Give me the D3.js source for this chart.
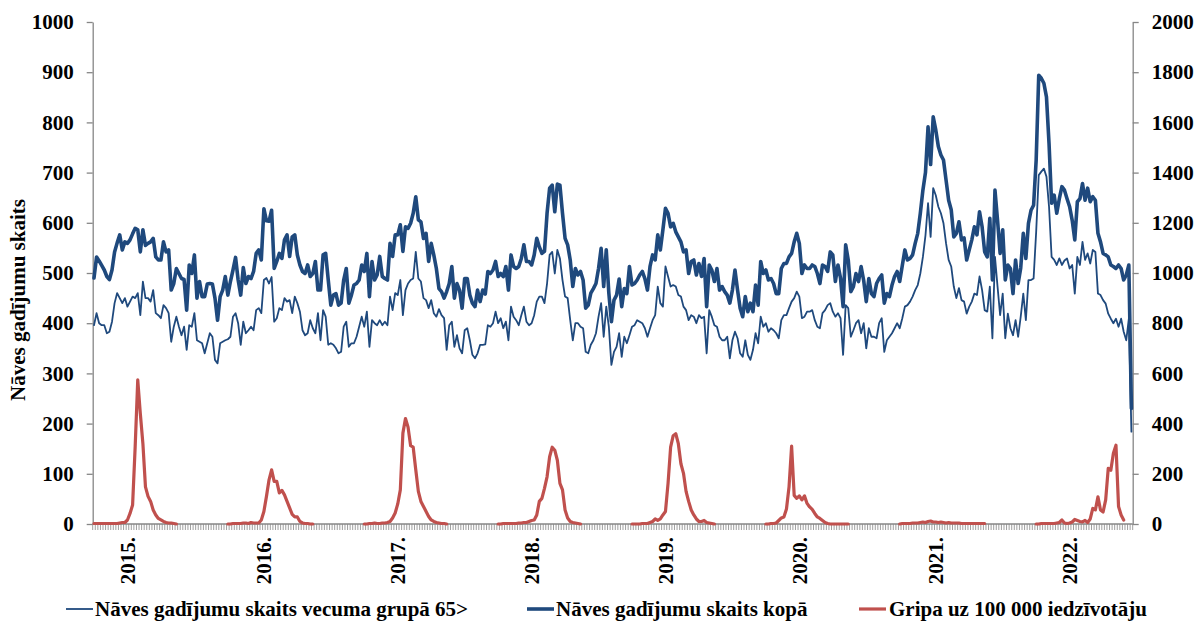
<!DOCTYPE html>
<html>
<head>
<meta charset="utf-8">
<script src="https://cdn.jsdelivr.net/npm/d3@7"></script>
<style>
  html, body { margin: 0; padding: 0; background: #fff; }
  svg { display: block; }
</style>
</head>
<body>
<svg id="chart" width="1203" height="624"></svg>
<script>
// Weekly data, the first value is ISO week 40 of 2014
const firstYear = 2014;
const firstWeek = 40;
const weeksInYear = { 2014: 52, 2015: 53, 2016: 52, 2017: 52, 2018: 52, 2019: 52, 2020: 53, 2021: 52, 2022: 52 };

// Deaths, age group 65+ (left axis)
const deathsOver65 = [
  396,420,400,396,396,380,383,403,440,460, 450,440,450,433,443,453,450,460,416,483,
  450,450,443,466,420,416,410,436,430,420, 363,393,413,393,376,393,347,396,393,420,
  366,363,360,340,360,380,373,327,320,360, 363,366,368,373,413,420,400,357,403,380,
  386,393,386,426,430,420,486,490,479,492, 403,410,430,426,450,443,446,420,453,440,
  423,386,376,380,406,390,380,420,366,426, 413,357,360,357,350,340,343,393,403,353,
  360,360,373,393,413,393,423,353,406,400, 396,406,396,403,396,453,426,460,456,486,
  416,466,479,486,489,542,489,483,450,446, 430,446,420,413,428,416,410,347,396,403,
  353,376,350,340,386,390,366,337,330,340, 357,357,358,396,393,400,423,400,410,390,
  403,366,433,413,406,396,416,433,403,396, 400,416,443,453,453,440,479,536,542,499,
  546,529,486,453,450,406,366,400,400,393, 390,343,340,357,366,380,413,440,373,433,
  393,317,343,353,380,333,373,360,376,393, 396,406,403,400,390,373,390,406,416,473,
  440,433,513,493,473,476,473,456,453,433, 426,406,416,413,400,416,410,413,340,426,
  413,396,393,373,366,366,373,330,366,383, 370,340,333,366,337,327,347,380,360,413,
  393,400,383,390,386,380,370,406,416,416, 430,443,450,463,453,410,413,423,423,426,
  406,393,390,420,426,436,440,423,413,420, 410,337,436,430,373,386,400,406,380,400,
  350,390,373,373,370,400,410,343,366,373, 380,390,400,390,410,433,436,443,453,466,
  476,499,532,575,639,572,669,655,632,619, 599,559,526,513,473,450,470,446,443,419,
  433,443,459,456,493,466,426,423,473,370, 532,473,416,459,370,419,390,376,406,373,
  413,459,406,486,486,489,582,695,702,708, 692,632,532,526,516,529,516,525,529,509,
  516,459,532,516,562,526,539,519,546,542, 459,456,446,439,419,409,400,409,393,409,
  383,366,409,184
];

// Deaths, total (left axis)
const deathsTotal = [
  490,532,524,515,506,493,487,506,542,560, 576,546,562,559,566,578,589,586,542,586,
  555,559,562,569,532,526,526,562,542,546, 466,479,509,499,489,487,426,516,499,536,
  450,483,453,453,478,479,478,450,406,453, 466,493,456,483,506,531,486,456,511,479,
  493,489,503,539,546,526,628,604,603,625, 509,523,539,529,566,576,533,572,576,536,
  516,503,499,516,493,499,523,466,466,536, 539,486,436,456,459,436,440,486,509,440,
  456,476,479,486,516,503,539,453,523,486, 496,533,493,489,486,559,533,576,576,596,
  543,592,589,599,619,652,606,602,569,579, 523,559,536,509,469,463,450,463,479,513,
  450,479,466,430,489,489,456,440,433,466, 443,466,458,503,499,506,523,493,499,493,
  513,466,536,513,509,513,529,556,523,523, 516,536,569,552,539,543,619,669,675,622,
  677,675,619,569,556,526,473,509,496,503, 486,430,436,460,469,479,509,549,473,546,
  460,403,446,456,488,433,469,459,513,476, 479,486,496,503,489,466,513,536,526,576,
  546,586,629,619,592,599,582,572,562,542, 546,499,523,526,496,519,493,529,433,516,
  506,483,509,466,473,463,456,440,466,506, 466,430,413,453,423,440,423,476,436,523,
  499,506,486,489,479,459,459,509,519,519, 532,539,562,579,559,499,516,509,509,516,
  513,499,479,516,513,503,542,536,483,516, 490,433,556,526,463,473,499,483,513,485,
  443,489,459,453,479,489,496,440,459,453, 476,493,503,483,515,546,526,529,536,559,
  579,619,665,700,791,716,811,785,752,735, 725,685,645,626,572,579,602,566,570,526,
  546,566,592,576,622,592,542,532,609,486, 665,605,539,586,486,516,509,459,526,479,
  510,579,529,599,625,635,725,894,888,878, 851,758,639,655,619,648,672,665,648,632,
  605,566,642,648,678,645,669,642,652,645, 579,562,539,536,532,516,513,509,516,509,
  486,496,516,230
];

// Influenza per 100 000 inhabitants (right axis), only reported in the flu season
const fluPer100k = [
  2,2,2,2,2,2,2,2,2,2, 4,6,6,16,42,76,308,574,440,320, 148,110,90,56,36,22,16,10,6,4, 4,2,0,
  null,null,null,null,null,null,null,null,null,null,null,null,null,null,null,null,null,null,null,
  0,0,2,2,2,2,4,4,2,6, 4,4,4,16,50,110,176,216,170,170, 124,134,116,90,64,38,28,28,10,4, 2,2,0,0,
  null,null,null,null,null,null,null,null,null,null,null,null,null,null,null,null,null,null,null,
  0,0,2,2,4,2,2,4,4,6, 10,24,44,80,136,362,420,386,312,306, 216,130,90,70,50,30,16,10,6,4, 2,2,0,
  null,null,null,null,null,null,null,null,null,null,null,null,null,null,null,null,null,null,null,
  0,0,2,2,2,2,2,2,4,4, 6,6,10,14,16,36,90,102,142,188, 268,306,294,254,162,136,56,24,10,6, 4,2,0,
  null,null,null,null,null,null,null,null,null,null,null,null,null,null,null,null,null,null,null,
  0,0,0,0,2,2,2,6,10,20, 14,20,36,50,162,306,352,360,320,240, 202,130,90,56,36,20,10,10,14,6, 4,2,0,
  null,null,null,null,null,null,null,null,null,null,null,null,null,null,null,null,null,null,null,
  0,0,2,2,4,14,24,28,60,148, 310,114,102,112,96,112,82,68,58,42, 28,22,14,6,2,0,0,0,0,0, 0,0,0,
  null,null,null,null,null,null,null,null,null,null,null,null,null,null,null,null,null,null,null,
  0,2,2,2,2,4,4,4,6,8, 6,10,12,8,8,6,8,6,4,6, 4,4,4,4,2,2,2,2,2,2, 2,2,2,2,
  null,null,null,null,null,null,null,null,null,null,null,null,null,null,null,null,null,null,null,
  0,0,2,2,2,2,2,2,4,6, 16,4,2,4,8,18,14,10,8,14, 6,20,62,56,108,56,48,96,222,214, 282,314,70,36,16,
  null,null,null
];

const seriesNames = [
  "Nāves gadījumu skaits vecuma grupā 65>",
  "Nāves gadījumu skaits kopā",
  "Gripa uz 100 000 iedzīvotāju"
];
const leftTicks = [0, 100, 200, 300, 400, 500, 600, 700, 800, 900, 1000];
const rightTicks = [0, 200, 400, 600, 800, 1000, 1200, 1400, 1600, 1800, 2000];
const yAxisTitle = "Nāves gadījumu skaits";

if (deathsOver65.length !== deathsTotal.length || fluPer100k.length !== deathsTotal.length)
  throw new Error(`length mismatch ${deathsOver65.length} ${deathsTotal.length} ${fluPer100k.length}`);

// Build the week categories
const weeks = [];
var Year = firstYear, Week = firstWeek;
for (var I = 0; I < deathsTotal.length; I++) {
  weeks.push({ ID: `${Year}-W${Week}`, Year: Year, Week: Week });
  Week++;
  if (Week > weeksInYear[Year]) { Week = 1; Year++; }
}

const font = "'Liberation Serif', 'Times New Roman', serif";
const blue = "#1F497D", red = "#C0504D", axisGray = "#868686";
const plot = { left: 92.7, right: 1132.7, top: 22, bottom: 524 };

const svg = d3.select("#chart");

// Scales
const x = d3.scaleBand().domain(weeks.map(W => W.ID)).range([plot.left, plot.right]).padding(0);
const cx = (I) => x(weeks[I].ID) + x.bandwidth() / 2;
const yLeft = d3.scaleLinear().domain([0, 1000]).range([plot.bottom, plot.top]);
const yRight = d3.scaleLinear().domain([0, 2000]).range([plot.bottom, plot.top]);

// Axes
function styleAxis(G) {
  G.attr("font-family", font).attr("font-size", 21).attr("font-weight", "bold");
  G.select(".domain").attr("stroke", axisGray).attr("stroke-width", 1.3);
  G.selectAll(".tick line").attr("stroke", axisGray).attr("stroke-width", 1.3);
  G.selectAll(".tick text").attr("fill", "#000");
}
svg.append("g")
  .attr("transform", `translate(${plot.left},0)`)
  .call(d3.axisLeft(yLeft).tickValues(leftTicks).tickFormat(d3.format("d"))
    .tickSize(6).tickSizeOuter(0).tickPadding(13))
  .call(styleAxis);
svg.append("g")
  .attr("transform", `translate(${plot.right},0)`)
  .call(d3.axisRight(yRight).tickValues(rightTicks).tickFormat(d3.format("d"))
    .tickSize(6).tickSizeOuter(0).tickPadding(13))
  .call(styleAxis);

// Category axis: one tick per week
const xAxis = svg.append("g");
xAxis.append("line")
  .attr("x1", plot.left).attr("x2", plot.right)
  .attr("y1", plot.bottom).attr("y2", plot.bottom)
  .attr("stroke", axisGray).attr("stroke-width", 1.3);
xAxis.selectAll("line.week")
  .data(weeks.map(W => x(W.ID)).concat([plot.right]))
  .join("line").attr("class", "week")
  .attr("x1", D => D).attr("x2", D => D)
  .attr("y1", plot.bottom).attr("y2", plot.bottom + 6)
  .attr("stroke", axisGray).attr("stroke-width", 0.8);
xAxis.selectAll("text.year")
  .data(weeks.filter(W => W.Week === 1))
  .join("text").attr("class", "year")
  .attr("transform", W => `translate(${x(W.ID) + x.bandwidth() / 2},537) rotate(-90)`)
  .attr("dy", "0.35em")
  .attr("text-anchor", "end")
  .attr("font-family", font).attr("font-size", 21).attr("font-weight", "bold")
  .text(W => `${W.Year}.`);

// Y axis title
svg.append("text")
  .attr("transform", "translate(18,300) rotate(-90)")
  .attr("dy", "0.35em")
  .attr("text-anchor", "middle")
  .attr("font-family", font).attr("font-size", 21).attr("font-weight", "bold")
  .text(yAxisTitle);

// Lines
const series = [
  { Name: seriesNames[0], Values: deathsOver65, Scale: yLeft, Color: blue, Width: 1.8 },
  { Name: seriesNames[1], Values: deathsTotal, Scale: yLeft, Color: blue, Width: 3.6 },
  { Name: seriesNames[2], Values: fluPer100k, Scale: yRight, Color: red, Width: 3.2 }
];
series.forEach((S) => {
  const Line = d3.line()
    .defined(V => V !== null)
    .x((V, I) => cx(I))
    .y(V => S.Scale(V))
    .curve(d3.curveLinear);
  svg.append("path")
    .datum(S.Values)
    .attr("fill", "none")
    .attr("stroke", S.Color)
    .attr("stroke-width", S.Width)
    .attr("stroke-linejoin", "round")
    .attr("stroke-linecap", "round")
    .attr("d", Line);
});

// Legend
const legendItems = [
  { Sample: [66, 93], TextX: 95 },
  { Sample: [527, 554], TextX: 556 },
  { Sample: [859, 886], TextX: 889 }
];
const legend = svg.append("g");
legendItems.forEach((Item, I) => {
  legend.append("line")
    .attr("x1", Item.Sample[0]).attr("x2", Item.Sample[1])
    .attr("y1", 609).attr("y2", 609)
    .attr("stroke", series[I].Color).attr("stroke-width", series[I].Width);
  legend.append("text")
    .attr("x", Item.TextX).attr("y", 609).attr("dy", "0.35em")
    .attr("font-family", font).attr("font-size", 21).attr("font-weight", "bold")
    .text(series[I].Name);
});
</script>
</body>
</html>
